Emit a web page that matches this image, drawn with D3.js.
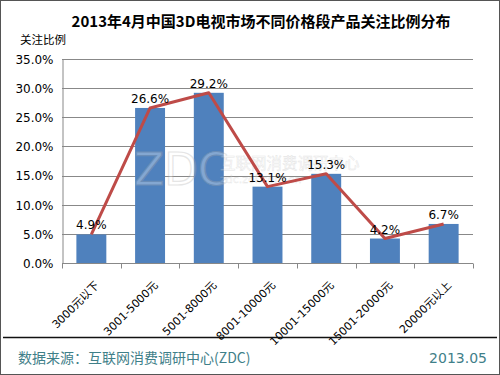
<!DOCTYPE html>
<html>
<head>
<meta charset="utf-8">
<script src="https://cdn.jsdelivr.net/npm/d3@7"></script>
<style>
  body { margin: 0; background: #fff; }
  svg { display: block; font-family: "Noto Sans CJK SC", "DejaVu Sans", sans-serif; }
</style>
</head>
<body>
<svg id="chart" width="500" height="375"></svg>
<script>
const categories = ['3000元以下', '3001-5000元', '5001-8000元', '8001-10000元', '10001-15000元', '15001-20000元', '20000元以上'];
const shares = [4.9, 26.6, 29.2, 13.1, 15.3, 4.2, 6.7];
const yTicks = [0, 5, 10, 15, 20, 25, 30, 35];

const svg = d3.select('#chart');
const W = 500, H = 375;
const plot = { left: 62, right: 473, top: 59, bottom: 263 };

// cadre
svg.append('rect').attr('x', 0.5).attr('y', 0.5).attr('width', W - 1).attr('height', H - 1)
  .attr('fill', '#fff').attr('stroke', '#555').attr('stroke-width', 1);

// titre
svg.append('text').attr('x', 261).attr('y', 27).attr('text-anchor', 'middle')
  .style('font-size', '15px').style('font-weight', 'bold').attr('fill', '#000')
  .text('2013年4月中国3D电视市场不同价格段产品关注比例分布');

svg.append('text').attr('x', 20).attr('y', 44)
  .style('font-size', '11.5px').attr('fill', '#000').text('关注比例');

const x = d3.scaleBand().domain(categories).range([plot.left, plot.right]).paddingInner(0.49).paddingOuter(0.245);
const y = d3.scaleLinear().domain([0, 35]).range([plot.bottom, plot.top]);

// grille
svg.append('g').selectAll('line').data(yTicks.slice(1)).join('line')
  .attr('x1', plot.left).attr('x2', plot.right)
  .attr('y1', d => Math.round(y(d)) + 0.5).attr('y2', d => Math.round(y(d)) + 0.5)
  .attr('stroke', '#888').attr('stroke-width', 1);

// axe Y
const yAxis = svg.append('g').attr('transform', `translate(${plot.left + 0.5},0)`)
  .call(d3.axisLeft(y).tickValues(yTicks).tickFormat(d => d.toFixed(1) + '%').tickSize(0).tickPadding(9));
yAxis.select('.domain').attr('stroke', '#888');
yAxis.selectAll('text').style('font-size', '12px').attr('fill', '#000').style('font-family', '"DejaVu Sans", sans-serif').attr('dy', '0.36em');

// barres
svg.append('g').selectAll('rect').data(shares).join('rect')
  .attr('x', (d, i) => x(categories[i])).attr('width', x.bandwidth())
  .attr('y', d => y(d)).attr('height', d => y(0) - y(d))
  .attr('fill', '#4f81bd');

// filigrane
const wm = svg.append('g').attr('opacity', 0.3);
wm.append('text').attr('x', 134).attr('y', 185).style('font-size', '44px')
  .style('font-family', '"DejaVu Sans", sans-serif')
  .attr('fill', '#fff').attr('stroke', '#aaa').attr('stroke-width', 1.2).text('ZDC');
wm.append('text').attr('x', 220).attr('y', 169).style('font-size', '15.5px')
  .attr('fill', '#fff').attr('stroke', '#aaa').attr('stroke-width', 0.5).text('互联网消费调研中心');
wm.append('text').attr('x', 220).attr('y', 183).style('font-size', '11px')
  .style('font-family', '"DejaVu Sans", sans-serif')
  .attr('fill', '#fff').attr('stroke', '#aaa').attr('stroke-width', 0.4).text('zdc.zol.com.cn');

// axe X
const xAxis = svg.append('g').attr('transform', `translate(0,${plot.bottom + 0.5})`);
xAxis.append('line').attr('x1', plot.left).attr('x2', plot.right).attr('stroke', '#888');
const step = x.step();
xAxis.selectAll('line.tick').data(d3.range(categories.length + 1)).join('line').attr('class', 'tick')
  .attr('x1', i => Math.round(plot.left + i * step) + 0.5).attr('x2', i => Math.round(plot.left + i * step) + 0.5)
  .attr('y1', 0).attr('y2', 5).attr('stroke', '#888');
xAxis.selectAll('text').data(categories).join('text')
  .attr('transform', d => `translate(${x(d) + x.bandwidth() / 2 + 3},17) rotate(-45)`)
  .attr('text-anchor', 'end').attr('dy', '0.7em')
  .style('font-size', '11px').style('font-family', '"DejaVu Sans", "Noto Sans CJK SC", sans-serif')
  .attr('fill', '#000').text(d => d);

// courbe
const line = d3.line().x((d, i) => x(categories[i]) + x.bandwidth() / 2).y(d => y(d));
svg.append('path').datum(shares).attr('d', line)
  .attr('fill', 'none').attr('stroke', '#be4b48').attr('stroke-width', 3).attr('stroke-linejoin', 'round');

// étiquettes
svg.append('g').selectAll('text').data(shares).join('text')
  .attr('x', (d, i) => x(categories[i]) + x.bandwidth() / 2).attr('y', d => y(d) - 5)
  .attr('text-anchor', 'middle').style('font-size', '12px')
  .style('font-family', '"DejaVu Sans", sans-serif').attr('fill', '#000')
  .text(d => d.toFixed(1) + '%');

// pied de page
svg.append('line').attr('x1', 3).attr('x2', 497).attr('y1', 337.5).attr('y2', 337.5)
  .attr('stroke', '#111').attr('stroke-width', 1.5);
svg.append('text').attr('x', 18).attr('y', 363).style('font-size', '14px').attr('fill', '#3f8089')
  .text('数据来源：互联网消费调研中心(ZDC)');
svg.append('text').attr('x', 487).attr('y', 363).attr('text-anchor', 'end').style('font-size', '14px')
  .style('font-family', '"DejaVu Sans", sans-serif').attr('fill', '#3f8089').text('2013.05');
</script>
</body>
</html>
